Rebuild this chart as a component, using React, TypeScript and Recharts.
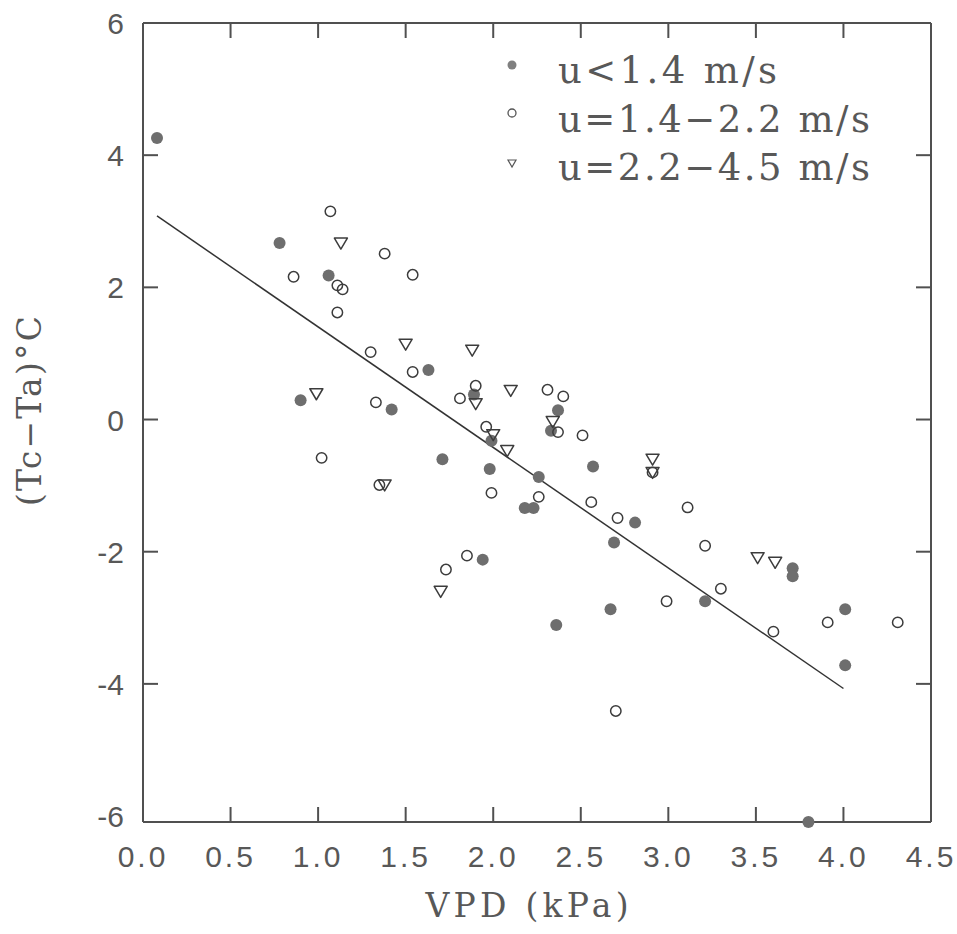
import React from 'react';
import { ScatterChart, Scatter, XAxis, YAxis, ReferenceLine, Legend, Label } from 'recharts';

// u < 1.4 m/s (filled circles)
const calmVpd = [0.08, 0.78, 1.06, 0.90, 1.42, 1.63, 1.71, 1.89, 1.98, 1.94, 1.99, 2.18, 2.23, 2.26, 2.37, 2.33, 2.57, 2.69, 2.81, 2.36, 2.67, 3.21, 3.71, 3.71, 4.01, 4.01, 3.80];
const calmDt = [4.26, 2.67, 2.18, 0.29, 0.15, 0.75, -0.60, 0.38, -0.75, -2.12, -0.32, -1.34, -1.34, -0.87, 0.14, -0.17, -0.71, -1.86, -1.56, -3.11, -2.87, -2.75, -2.25, -2.37, -2.87, -3.72, -6.09];

// u = 1.4-2.2 m/s (open circles)
const midVpd = [1.07, 0.86, 1.38, 1.54, 1.11, 1.14, 1.11, 1.30, 1.54, 1.33, 1.02, 1.35, 1.73, 1.81, 1.90, 1.96, 1.99, 1.85, 2.31, 2.40, 2.37, 2.26, 2.51, 2.56, 2.71, 2.91, 3.11, 3.21, 3.30, 2.99, 3.60, 3.91, 4.31, 2.70];
const midDt = [3.15, 2.16, 2.51, 2.19, 2.03, 1.97, 1.62, 1.02, 0.72, 0.26, -0.58, -0.99, -2.27, 0.32, 0.51, -0.11, -1.11, -2.06, 0.45, 0.35, -0.19, -1.17, -0.24, -1.25, -1.49, -0.80, -1.33, -1.91, -2.56, -2.75, -3.21, -3.07, -3.07, -4.41];

// u = 2.2-4.5 m/s (open triangles)
const windyVpd = [1.13, 1.50, 0.99, 1.38, 1.70, 1.88, 1.90, 2.10, 2.00, 2.08, 2.34, 2.91, 2.91, 3.51, 3.61];
const windyDt = [2.67, 1.14, 0.39, -0.99, -2.60, 1.05, 0.24, 0.44, -0.23, -0.47, -0.03, -0.60, -0.80, -2.09, -2.16];

// regression line end points
const fitVpd = [0.08, 4.0];
const fitDt = [3.08, -4.07];

const xTicks = [0, 0.5, 1, 1.5, 2, 2.5, 3, 3.5, 4, 4.5];
const xTickLabels = ['0.0', '0.5', '1.0', '1.5', '2.0', '2.5', '3.0', '3.5', '4.0', '4.5'];
const yTicks = [-6, -4, -2, 0, 2, 4, 6];
const yTickLabels = ['-6', '-4', '-2', '0', '2', '4', '6'];
const seriesNames = ['u<1.4 m/s', 'u=1.4\u22122.2 m/s', 'u=2.2\u22124.5 m/s'];
const xTitle = 'VPD (kPa)';
const yTitle = '(Tc\u2212Ta)\u00B0C';

const toPoints = (xs: number[], ys: number[]) => xs.map((x, i) => ({ x, y: ys[i] }));

const W = 957;
const H = 934;
const PLOT_TOP = 23;
const PLOT_RIGHT = 931;
const TICK_LEN = 15;

const AXIS = '#505050';
const MARK = '#3c3c3c';
const TEXT = '#585858';
const TICK_FONT = 'Liberation Sans, Arial, sans-serif';
const TITLE_FONT = 'DejaVu Serif, serif';

const FilledDot = (p: any) => <circle cx={p.cx} cy={p.cy} r={6} fill="#6e6e6e" />;
const OpenDot = (p: any) => (
  <circle cx={p.cx} cy={p.cy} r={5.2} fill="none" stroke={MARK} strokeWidth={1.5} />
);
const Tri = (p: any) => (
  <polygon
    points={`${p.cx - 6.5},${p.cy - 5} ${p.cx + 6.5},${p.cy - 5} ${p.cx},${p.cy + 6}`}
    fill="none"
    stroke={MARK}
    strokeWidth={1.5}
    strokeLinejoin="round"
  />
);

const BottomTick = (p: any) => {
  const { x, y, payload } = p;
  const v = payload.value;
  const i = xTicks.indexOf(v);
  const inner = i > 0 && i < xTicks.length - 1;
  return (
    <g>
      {inner && <line x1={x} y1={y} x2={x} y2={y - TICK_LEN} stroke={AXIS} strokeWidth={2} />}
      {inner && <line x1={x} y1={PLOT_TOP} x2={x} y2={PLOT_TOP + TICK_LEN} stroke={AXIS} strokeWidth={2} />}
      <text x={x} y={y + 45} textAnchor="middle" fontFamily={TICK_FONT} fontSize={30} letterSpacing={3} fill={TEXT}>
        {xTickLabels[i]}
      </text>
    </g>
  );
};

const LeftTick = (p: any) => {
  const { x, y, payload } = p;
  const v = payload.value;
  const i = yTicks.indexOf(v);
  const inner = i > 0 && i < yTicks.length - 1;
  return (
    <g>
      {inner && <line x1={x} y1={y} x2={x + TICK_LEN} y2={y} stroke={AXIS} strokeWidth={2} />}
      {inner && <line x1={PLOT_RIGHT} y1={y} x2={PLOT_RIGHT - TICK_LEN} y2={y} stroke={AXIS} strokeWidth={2} />}
      <text x={x - 19} y={y + 11} textAnchor="end" fontFamily={TICK_FONT} fontSize={30} fill={TEXT}>
        {yTickLabels[i]}
      </text>
    </g>
  );
};

const LegendBox = () => (
  <svg width={420} height={160}>
    <circle cx={24} cy={27} r={4.5} fill="#808080" />
    <circle cx={24} cy={75} r={4} fill="none" stroke="#555" strokeWidth={1.3} />
    <polygon points="20,122 28,122 24,129" fill="none" stroke="#555" strokeWidth={1.2} />
    {seriesNames.map((n, i) => (
      <text
        key={n}
        x={70}
        y={45 + i * 48.5}
        fontFamily={TITLE_FONT}
        fontSize={37}
        fill={TEXT}
        textLength={i === 0 ? 219 : 312}
        lengthAdjust="spacing"
      >
        {n}
      </text>
    ))}
  </svg>
);

export default function App() {
  return (
    <div style={{ position: 'absolute', left: 0, top: 0, width: W, height: H }}>
      <ScatterChart width={W} height={H} margin={{ top: PLOT_TOP, right: W - PLOT_RIGHT, bottom: 0, left: 0 }}>
        <XAxis
          dataKey="x"
          type="number"
          domain={[xTicks[0], xTicks[xTicks.length - 1]]}
          ticks={xTicks}
          interval={0}
          orientation="bottom"
          height={112}
          tickSize={0}
          tickMargin={0}
          tickLine={false}
          axisLine={{ stroke: AXIS, strokeWidth: 2 }}
          tick={<BottomTick />}
        >
          <Label
            content={() => (
              <text x={527} y={917} textAnchor="middle" fontFamily={TITLE_FONT} fontSize={33} fill={TEXT} textLength={203} lengthAdjust="spacing">
                {xTitle}
              </text>
            )}
          />
        </XAxis>
        <YAxis
          dataKey="y"
          type="number"
          domain={[() => yTicks[0], () => yTicks[yTicks.length - 1]]}
          ticks={yTicks}
          interval={0}
          orientation="left"
          width={143}
          tickSize={0}
          tickMargin={0}
          tickLine={false}
          axisLine={{ stroke: AXIS, strokeWidth: 2 }}
          tick={<LeftTick />}
        >
          <Label
            content={() => (
              <text
                x={29}
                y={411}
                transform="rotate(-90, 29, 411)"
                textAnchor="middle"
                dominantBaseline="central"
                fontFamily={TITLE_FONT}
                fontSize={33}
                fill={TEXT}
                textLength={190}
                lengthAdjust="spacing"
              >
                {yTitle}
              </text>
            )}
          />
        </YAxis>
        <ReferenceLine y={yTicks[yTicks.length - 1]} stroke={AXIS} strokeWidth={2} />
        <ReferenceLine x={xTicks[xTicks.length - 1]} stroke={AXIS} strokeWidth={2} />
        <ReferenceLine
          segment={[
            { x: fitVpd[0], y: fitDt[0] },
            { x: fitVpd[1], y: fitDt[1] },
          ]}
          stroke="#333"
          strokeWidth={1.5}
          ifOverflow="visible"
        />
        <Scatter name={seriesNames[0]} data={toPoints(calmVpd, calmDt)} shape={FilledDot} isAnimationActive={false} />
        <Scatter name={seriesNames[1]} data={toPoints(midVpd, midDt)} shape={OpenDot} isAnimationActive={false} />
        <Scatter name={seriesNames[2]} data={toPoints(windyVpd, windyDt)} shape={Tri} isAnimationActive={false} />
        <Legend
          layout="vertical"
          align="center"
          verticalAlign="middle"
          wrapperStyle={{ left: 488, top: 38, width: 420, height: 160 }}
          content={() => <LegendBox />}
        />
      </ScatterChart>
    </div>
  );
}
